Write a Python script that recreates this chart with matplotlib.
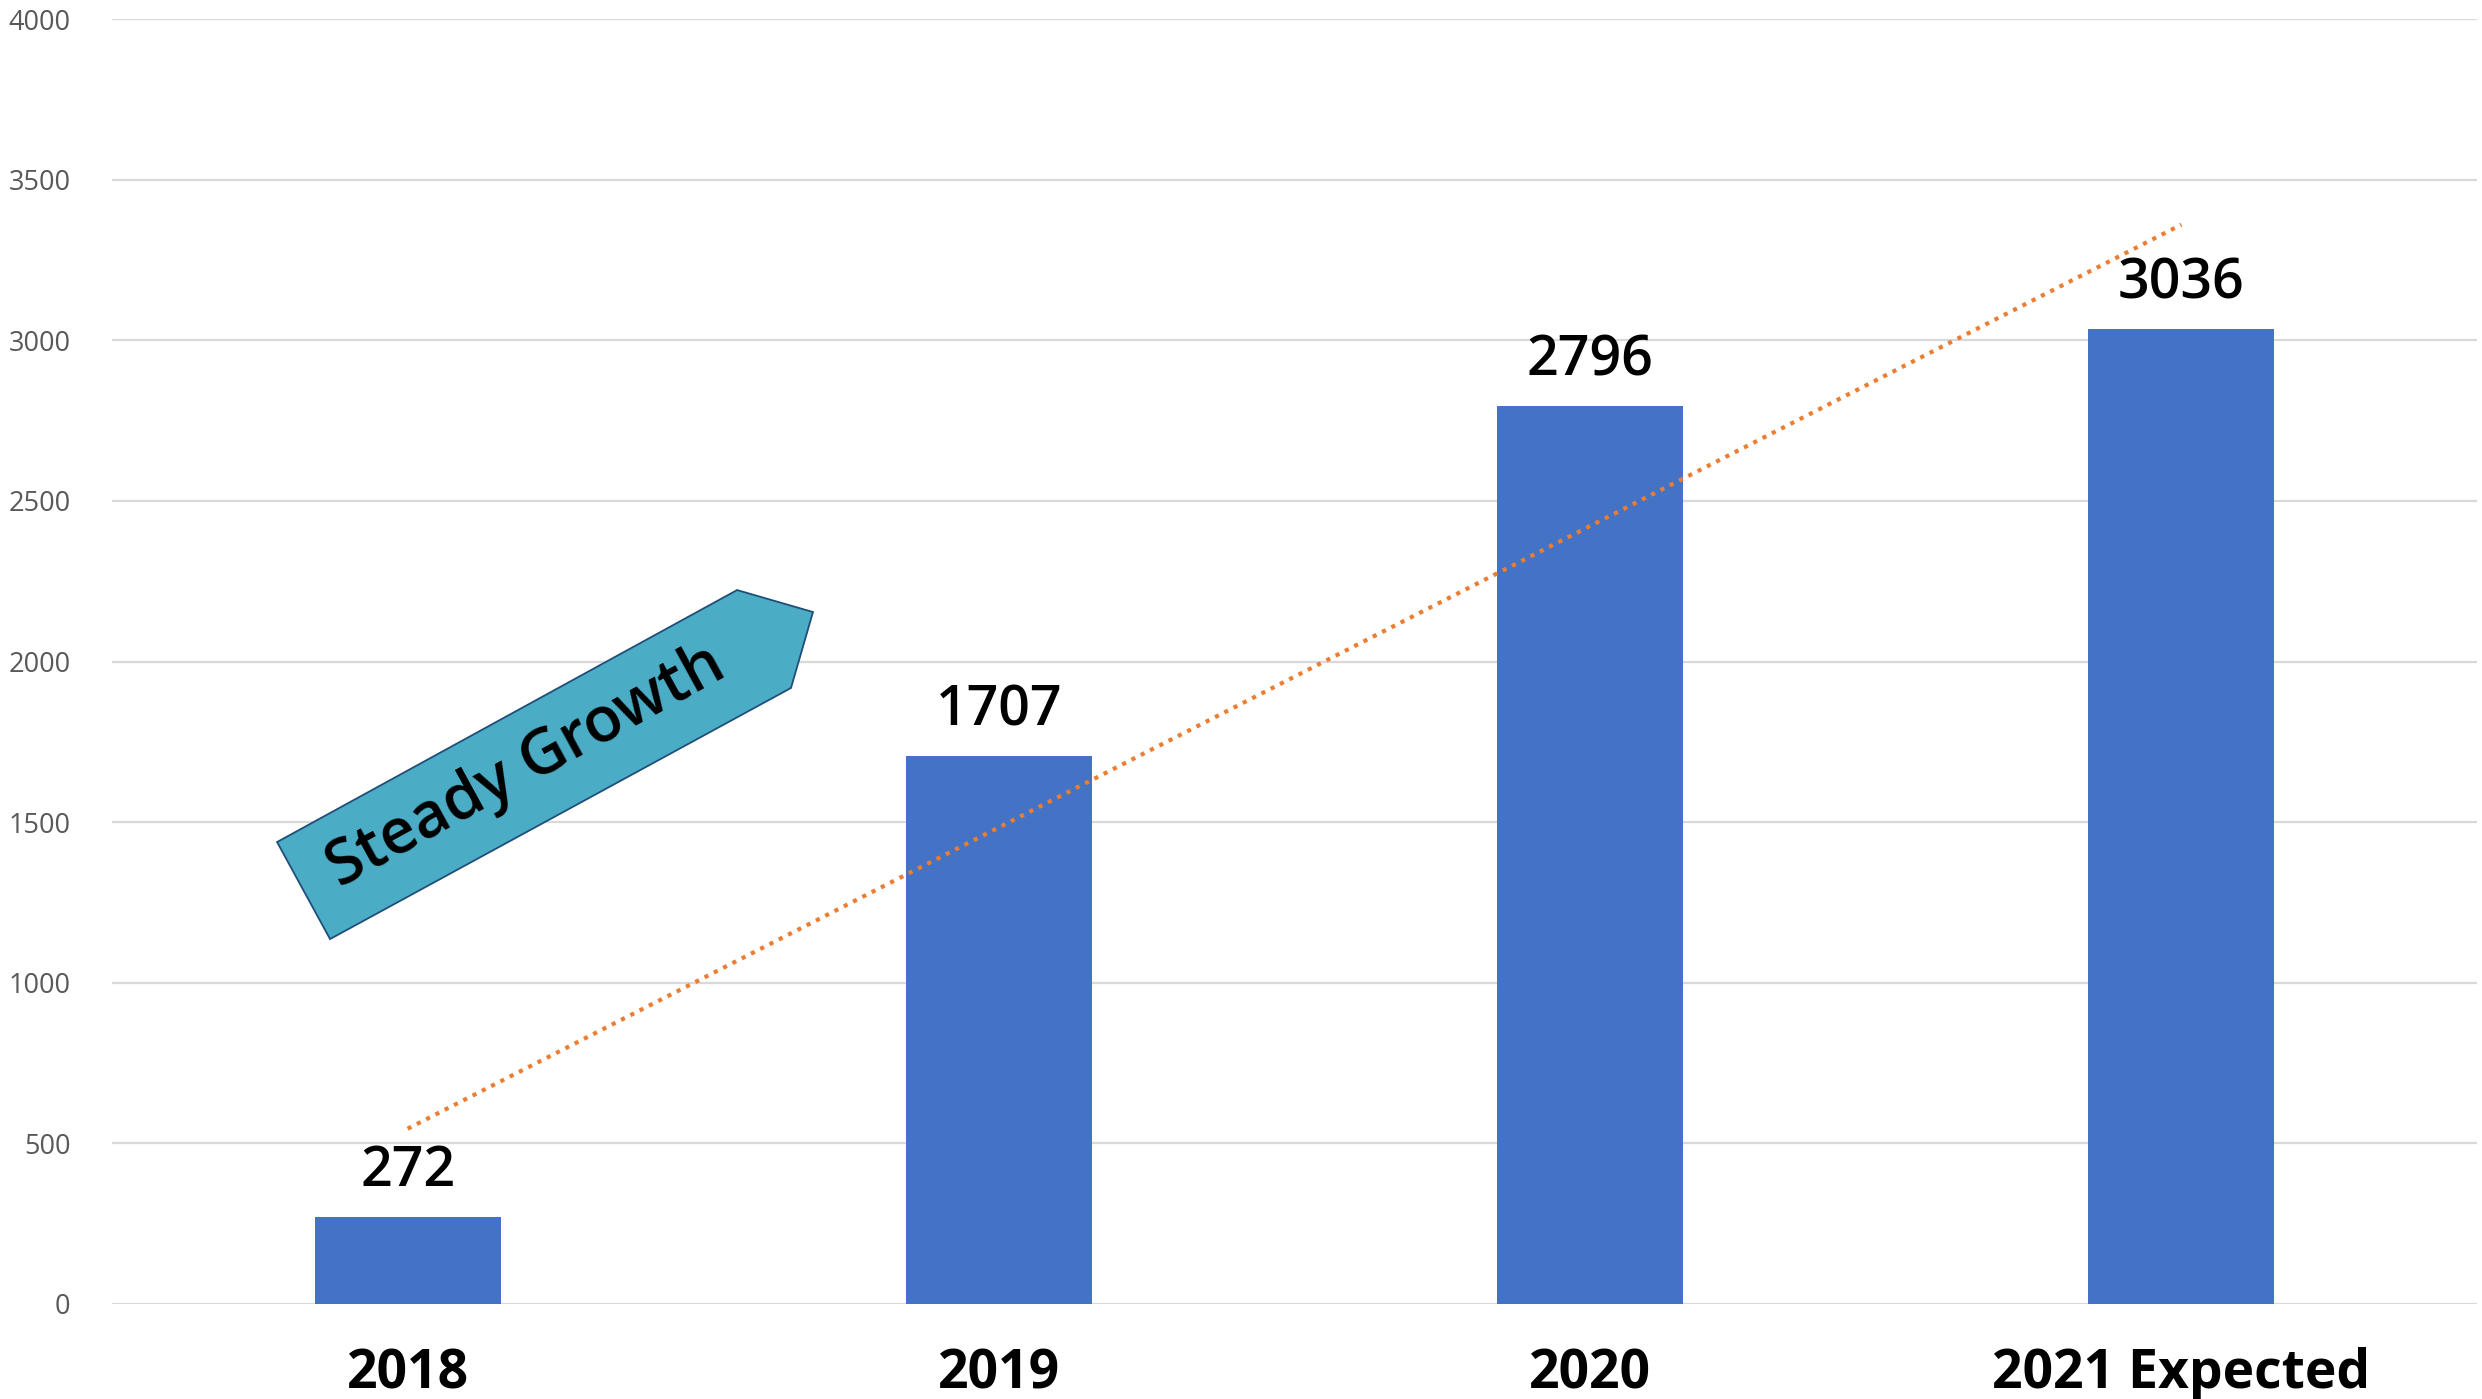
# bar chart with linear trend line and "Steady Growth" arrow callout

import numpy as np
import matplotlib
matplotlib.use("Agg")
import matplotlib.pyplot as plt
from matplotlib.patches import Polygon

# ── DATA ─────────────────────────────────────────────────
years  = ["2018", "2019", "2020", "2021 Expected"]
values = [272, 1707, 2796, 3036]
y_ticks = [0, 500, 1000, 1500, 2000, 2500, 3000, 3500, 4000]

# ── STYLE ────────────────────────────────────────────────
BAR_COLOR   = "#4472C4"
TREND_COLOR = "#ED7D31"
GRID_COLOR  = "#D9D9D9"
ARROW_FILL  = "#4BACC6"
ARROW_EDGE  = "#1F4E79"

plt.rcParams["font.family"] = ["Open Sans", "DejaVu Sans"]

fig = plt.figure(figsize=(24.82, 13.99), dpi=100)
ax = fig.add_axes([112 / 2482, 1 - 1304 / 1399, 2365 / 2482, 1285 / 1399])

x = np.arange(len(years))
bars = ax.bar(x, values, width=0.315, color=BAR_COLOR, zorder=2)

# value labels above bars
for xi, v in zip(x, values):
    ax.annotate(str(v), (xi, v), xytext=(0, 22), textcoords="offset points",
                ha="center", va="baseline", fontsize=40, fontweight="semibold",
                color="black", zorder=4)

# linear trend line (dotted)
coef = np.polyfit(x, values, 1)
ax.plot(x, np.polyval(coef, x), color=TREND_COLOR, lw=3.0,
        linestyle=(0, (1, 1.5)), zorder=3)

# axes & grid
ax.set_xlim(-0.5, 3.5)
ax.set_ylim(0, 4000)
ax.set_yticks(y_ticks)
ax.set_xticks(x)
ax.set_xticklabels(years, fontsize=38.5, fontweight="bold", color="black")
ax.tick_params(axis="x", length=0, pad=31)
ax.tick_params(axis="y", length=0, pad=30, labelsize=19.5, labelcolor="#595959")
ax.grid(axis="y", color=GRID_COLOR, lw=1.6, zorder=0)
ax.set_axisbelow(True)
for s in ax.spines.values():
    s.set_visible(False)

# ── "Steady Growth" pentagon arrow (axes fraction) ───────
arrow_xy = [(0.0698, 0.3595), (0.2643, 0.5556), (0.2964, 0.5385),
            (0.2871, 0.4794), (0.0922, 0.2840)]
ax.add_patch(Polygon(arrow_xy, closed=True, transform=ax.transAxes,
                     facecolor=ARROW_FILL, edgecolor=ARROW_EDGE, lw=1.3,
                     zorder=5, clip_on=False))
ax.text(0.1750, 0.4179, "Steady Growth", transform=ax.transAxes,
        rotation=28.7, rotation_mode="anchor", ha="center", va="center",
        fontsize=45, fontweight="semibold", color="black", zorder=6)

fig.savefig("out.png", dpi=100)
print("saved out.png")
